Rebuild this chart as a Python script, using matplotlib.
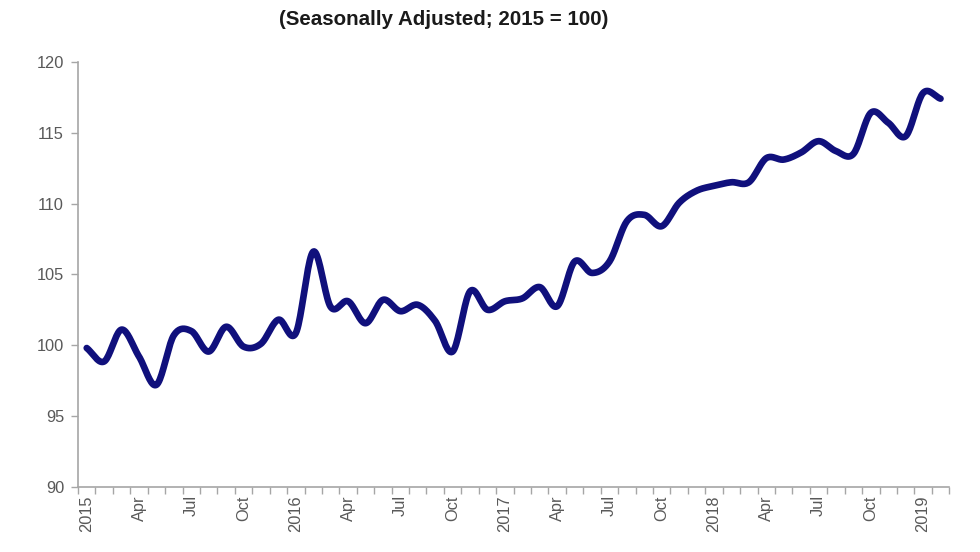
import numpy as np
import matplotlib.pyplot as plt

plt.rcParams["font.family"] = ["Liberation Sans", "DejaVu Sans"]

# monthly index, Jan 2015 .. Feb 2019
years = [2015, 2016, 2017, 2018, 2019]
values = [
    99.8, 98.85, 101.1, 99.2, 97.2, 100.7, 101.0, 99.55, 101.3, 99.9, 100.1, 101.8,
    100.85, 106.6, 102.7, 103.1, 101.55, 103.2, 102.4, 102.85, 101.7, 99.55, 103.8, 102.5,
    103.1, 103.3, 104.1, 102.75, 105.9, 105.1, 105.9, 108.75, 109.2, 108.4, 110.05, 110.9,
    111.25, 111.5, 111.5, 113.2, 113.1, 113.6, 114.4, 113.7, 113.5, 116.4, 115.7, 114.75,
    117.8, 117.4,
]
label_names = {3: "Apr", 6: "Jul", 9: "Oct"}


def smooth(x, y, steps=20):
    # catmull-rom curve through the points, like a "smoothed line" chart
    x = np.asarray(x, float)
    y = np.asarray(y, float)
    px = np.concatenate([[2 * x[0] - x[1]], x, [2 * x[-1] - x[-2]]])
    py = np.concatenate([[2 * y[0] - y[1]], y, [2 * y[-1] - y[-2]]])
    t = np.linspace(0, 1, steps, endpoint=False)[:, None]
    out_x, out_y = [], []
    for i in range(1, len(px) - 2):
        for p, out in ((px, out_x), (py, out_y)):
            p0, p1, p2, p3 = p[i - 1], p[i], p[i + 1], p[i + 2]
            seg = 0.5 * (2 * p1 + (-p0 + p2) * t + (2 * p0 - 5 * p1 + 4 * p2 - p3) * t ** 2
                         + (-p0 + 3 * p1 - 3 * p2 + p3) * t ** 3)
            out.extend(seg.ravel())
    out_x.append(x[-1])
    out_y.append(y[-1])
    return np.array(out_x), np.array(out_y)


n = len(values)
x = np.arange(n)
sx, sy = smooth(x, values)

fig = plt.figure(figsize=(9.8, 5.52), dpi=100)
ax = fig.add_axes([0.0796, 0.118, 0.889, 0.770])
ax.plot(sx, sy, color="#10107c", lw=4.8, solid_capstyle="round", solid_joinstyle="round")

ax.set_xlim(-0.5, n - 0.5)
ax.set_ylim(90, 120)
ax.set_yticks(np.arange(90, 121, 5))

# ticks between months, labels every quarter
ax.set_xticks(np.arange(-0.5, n, 1.0))
ax.set_xticklabels([])
ax.set_xticks(x[::3], minor=True)
labels = []
for i in x[::3]:
    m = i % 12
    labels.append(str(years[i // 12]) if m == 0 else label_names[m])
ax.set_xticklabels(labels, minor=True, rotation=90, fontsize=11.8, color="#595959")
ax.tick_params(axis="x", which="minor", length=0, pad=6)
ax.tick_params(axis="x", which="major", length=5, color="#a6a6a6", width=1)
ax.tick_params(axis="y", length=5, color="#a6a6a6", width=1, labelsize=11.8,
               labelcolor="#595959", pad=5)

for side in ("top", "right"):
    ax.spines[side].set_visible(False)
for side in ("left", "bottom"):
    ax.spines[side].set_color("#a6a6a6")
    ax.spines[side].set_linewidth(1.2)

fig.text(0.453, 0.965, "(Seasonally Adjusted; 2015 = 100)", ha="center", va="center",
         fontsize=14.8, fontweight="bold", color="#1a1a1a")

fig.savefig("out.png", dpi=100)
